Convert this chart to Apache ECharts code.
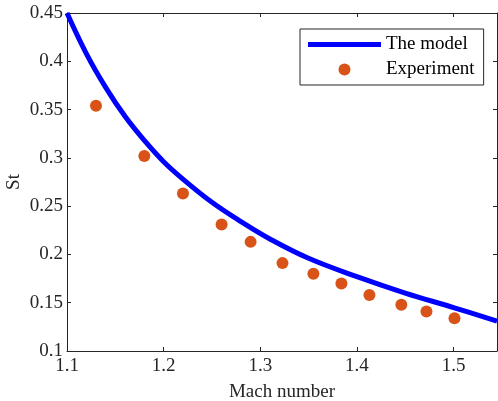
<!DOCTYPE html>
<html>
<head>
<meta charset="utf-8">
<style>
  html, body { margin: 0; padding: 0; background: #ffffff; }
  #chart { width: 498px; height: 401px; }
</style>
<script src="https://cdn.jsdelivr.net/npm/echarts@6/dist/echarts.min.js"></script>
</head>
<body>
<div id="chart"></div>
<script>
// Strouhal number versus Mach number: model curve and measured points
const modelMach = [1.10, 1.12, 1.14, 1.16, 1.18, 1.20, 1.22, 1.25, 1.28, 1.31, 1.35, 1.40, 1.45, 1.50, 1.545];
const modelSt   = [0.450, 0.408, 0.373, 0.343, 0.318, 0.296, 0.278, 0.254, 0.234, 0.216, 0.196, 0.177, 0.160, 0.145, 0.131];

const expMach = [1.13, 1.18, 1.22, 1.26, 1.29, 1.323, 1.355, 1.384, 1.413, 1.446, 1.472, 1.501];
const expSt   = [0.354, 0.302, 0.263, 0.231, 0.213, 0.191, 0.180, 0.170, 0.158, 0.148, 0.141, 0.134];

const xTicks = [1.1, 1.2, 1.3, 1.4, 1.5];
const yTicks = [0.1, 0.15, 0.2, 0.25, 0.3, 0.35, 0.4, 0.45];

const FONT = 'Liberation Serif';
const AXIS_COLOR = '#262626';

function nearTick(v, ticks) {
  return ticks.some(t => Math.abs(t - v) < 1e-6);
}

const xBase = {
  type: 'value', min: 1.1, max: 1.545, interval: 0.1,
  axisLine: { show: true, lineStyle: { color: AXIS_COLOR, width: 1 } },
  axisTick: { show: true, inside: true, length: 4, lineStyle: { color: AXIS_COLOR } },
  splitLine: { show: false }
};
const yBase = {
  type: 'value', min: 0.1, max: 0.45, interval: 0.05,
  axisLine: { show: true, lineStyle: { color: AXIS_COLOR, width: 1 } },
  axisTick: { show: true, inside: true, length: 4, lineStyle: { color: AXIS_COLOR } },
  splitLine: { show: false }
};

const chart = echarts.init(document.getElementById('chart'), null, { renderer: 'canvas' });

chart.setOption({
  animation: false,
  backgroundColor: '#ffffff',
  textStyle: { fontFamily: FONT },
  grid: { left: 67, right: 1, top: 13, bottom: 50, containLabel: false, outerBoundsMode: 'none' },
  xAxis: [
    Object.assign({}, xBase, {
      position: 'bottom',
      name: 'Mach number', nameLocation: 'middle', nameGap: 32, nameMoveOverlap: false,
      nameTextStyle: { fontFamily: FONT, fontSize: 19, color: AXIS_COLOR },
      axisLabel: {
        show: true, margin: 6, showMaxLabel: false,
        fontFamily: FONT, fontSize: 19, color: AXIS_COLOR,
        formatter: v => nearTick(v, xTicks) ? String(Math.round(v * 10) / 10) : ''
      }
    }),
    Object.assign({}, xBase, { position: 'top', axisLabel: { show: false } })
  ],
  yAxis: [
    Object.assign({}, yBase, {
      position: 'left',
      name: 'St', nameLocation: 'middle', nameGap: 43, nameRotate: 90, nameMoveOverlap: false,
      nameTextStyle: { fontFamily: FONT, fontSize: 19, color: AXIS_COLOR },
      axisLabel: {
        show: true, margin: 4,
        fontFamily: FONT, fontSize: 19, color: AXIS_COLOR,
        formatter: v => nearTick(v, yTicks) ? String(Math.round(v * 100) / 100) : ''
      }
    }),
    Object.assign({}, yBase, { position: 'right', axisLabel: { show: false } })
  ],
  legend: {
    orient: 'vertical',
    left: 300, top: 29,
    padding: [6, 9, 6, 8],
    itemWidth: 73, itemHeight: 12, itemGap: 6, itemTextGap: 6,
    borderColor: AXIS_COLOR, borderWidth: 1,
    backgroundColor: '#ffffff',
    textStyle: { fontFamily: FONT, fontSize: 19, color: '#000000', lineHeight: 19 },
    data: [
      { name: 'The model', icon: 'path://M0,0L73,0L73,5L0,5Z' },
      { name: 'Experiment', icon: 'circle' }
    ]
  },
  series: [
    {
      name: 'The model',
      type: 'line',
      smooth: 0.4,
      symbol: 'none',
      data: modelMach.map((m, i) => [m, modelSt[i]]),
      lineStyle: { color: '#0000FF', width: 5 },
      itemStyle: { color: '#0000FF' },
      z: 2
    },
    {
      name: 'Experiment',
      type: 'scatter',
      symbol: 'circle',
      symbolSize: 12,
      data: expMach.map((m, i) => [m, expSt[i]]),
      itemStyle: { color: '#D95319', opacity: 1 },
      z: 3
    }
  ]
});
</script>
</body>
</html>
